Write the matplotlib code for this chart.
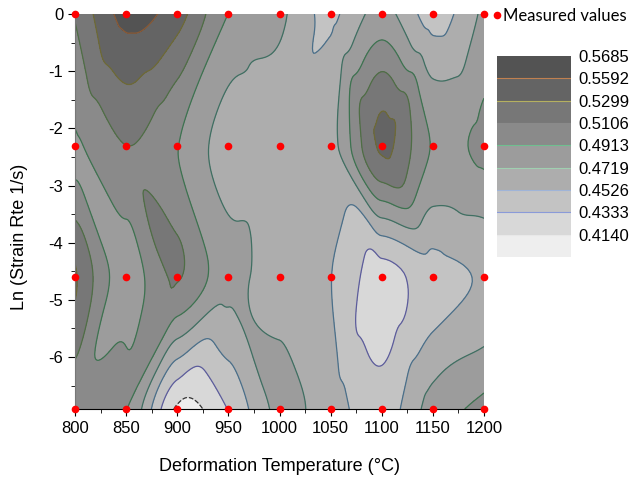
import numpy as np
import matplotlib
matplotlib.use('Agg')
import matplotlib.pyplot as plt
import matplotlib.tri as mtri
from matplotlib.ticker import MultipleLocator

plt.rcParams['font.family'] = ['Liberation Sans', 'DejaVu Sans']
plt.rcParams['axes.unicode_minus'] = False

# measured grid: temperature (°C) x ln(strain rate)
temps = [800, 850, 900, 950, 1000, 1050, 1100, 1150, 1200]
ln_rates = [0.0, -2.3026, -4.6052, -6.9078]
eta_r0 = [0.512, 0.555, 0.538, 0.491, 0.476, 0.449, 0.478, 0.445, 0.476]
eta_r1 = [0.488, 0.5105, 0.492, 0.462, 0.460, 0.465, 0.533, 0.490, 0.495]
eta_r2 = [0.532, 0.482, 0.512, 0.478, 0.465, 0.453, 0.425, 0.445, 0.455]
eta_r3 = [0.500, 0.492, 0.411, 0.434, 0.476, 0.462, 0.442, 0.480, 0.497]

levels = [0.4140, 0.4333, 0.4526, 0.4719, 0.4913, 0.5106, 0.5299, 0.5492]
level_labels = ['0.5685', '0.5592', '0.5299', '0.5106', '0.4913',
                '0.4719', '0.4526', '0.4333', '0.4140']
fill_colors = ['#eeeeee', '#d8d8d8', '#c3c3c3', '#adadad', '#9c9c9c',
               '#8a8a8a', '#777777', '#646464', '#535353']
line_colors = ['#333333', '#5c5c9c', '#4a6f8a', '#3f6f62', '#3d7350',
               '#4f6e45', '#6e6a35', '#8b5a35']
key_line_colors = ['#e8e8e8', '#8a9ad8', '#9fb4d8', '#9fd0b0', '#6fbf8f',
                   '#8a8a8a', '#b5b060', '#c08050']

Z = np.array([eta_r0, eta_r1, eta_r2, eta_r3])
T, L = np.meshgrid(temps, ln_rates)

# smooth surface: cubic interpolation done in grid-index space
gi, gj = np.meshgrid(np.arange(len(temps)), np.arange(len(ln_rates)))
tri_idx = mtri.Triangulation(gi.ravel(), gj.ravel())
interp = mtri.CubicTriInterpolator(tri_idx, Z.ravel(), kind='geom')
fine, zf = mtri.UniformTriRefiner(tri_idx).refine_field(Z.ravel(), interp, subdiv=5)
fx = np.interp(fine.x, np.arange(len(temps)), temps)
fy = np.interp(fine.y, np.arange(len(ln_rates)), ln_rates)
tri_data = mtri.Triangulation(fx, fy, fine.triangles)

fig = plt.figure(figsize=(6.33, 4.78), dpi=100)
ax = fig.add_axes([75/633, 69/478, 409/633, 395/478])

ax.tricontourf(tri_data, zf, levels=[0] + levels + [1], colors=fill_colors)
ax.tricontour(tri_data, zf, levels=levels, colors=line_colors, linewidths=0.9,
              linestyles=['--'] + ['-'] * 7)
pts, = ax.plot(T.ravel(), L.ravel(), 'o', color='#ff0000', ms=5.5, mec='none',
               clip_on=False, zorder=5)

ax.set_xlim(800, 1200)
ax.set_ylim(-6.9078, 0)
ax.xaxis.set_major_locator(MultipleLocator(50))
ax.xaxis.set_minor_locator(MultipleLocator(25))
ax.yaxis.set_major_locator(MultipleLocator(1))
ax.yaxis.set_minor_locator(MultipleLocator(0.5))
ax.tick_params(which='both', direction='out', labelsize=12)
ax.tick_params(which='major', length=5)
ax.tick_params(which='minor', length=3)
for s in ['top', 'right']:
    ax.spines[s].set_visible(False)
ax.spines['left'].set_color('#777777')
ax.set_xlabel('Deformation Temperature (°C)', fontsize=13, labelpad=16)
ax.set_ylabel('Ln (Strain Rte 1/s)', fontsize=13)
ax.yaxis.set_label_coords(-0.115, 0.435)

fig.legend(handles=[pts], labels=['Measured values'], loc='upper left',
           bbox_to_anchor=(494/633, 1 - 8/478), frameon=False, handlelength=0.4,
           handletextpad=0.15, borderaxespad=0, borderpad=0,
           prop={'family': 'Lato', 'size': 12})

# colour key
cax = fig.add_axes([497/633, 221/478, 74/633, 201/478])
for i, c in enumerate(fill_colors):
    cax.bar(0.5, 1, bottom=i, width=1, color=c)
for i, c in enumerate(key_line_colors):
    cax.axhline(i + 1, color=c, lw=0.8)
cax.set_xlim(0, 1)
cax.set_ylim(0, 9)
cax.set_xticks([])
cax.yaxis.tick_right()
cax.set_yticks(np.arange(1, 10))
cax.set_yticklabels(level_labels[::-1])
cax.tick_params(length=0, pad=5, labelsize=12)
for s in cax.spines.values():
    s.set_visible(False)

fig.savefig('out.png', dpi=100)
